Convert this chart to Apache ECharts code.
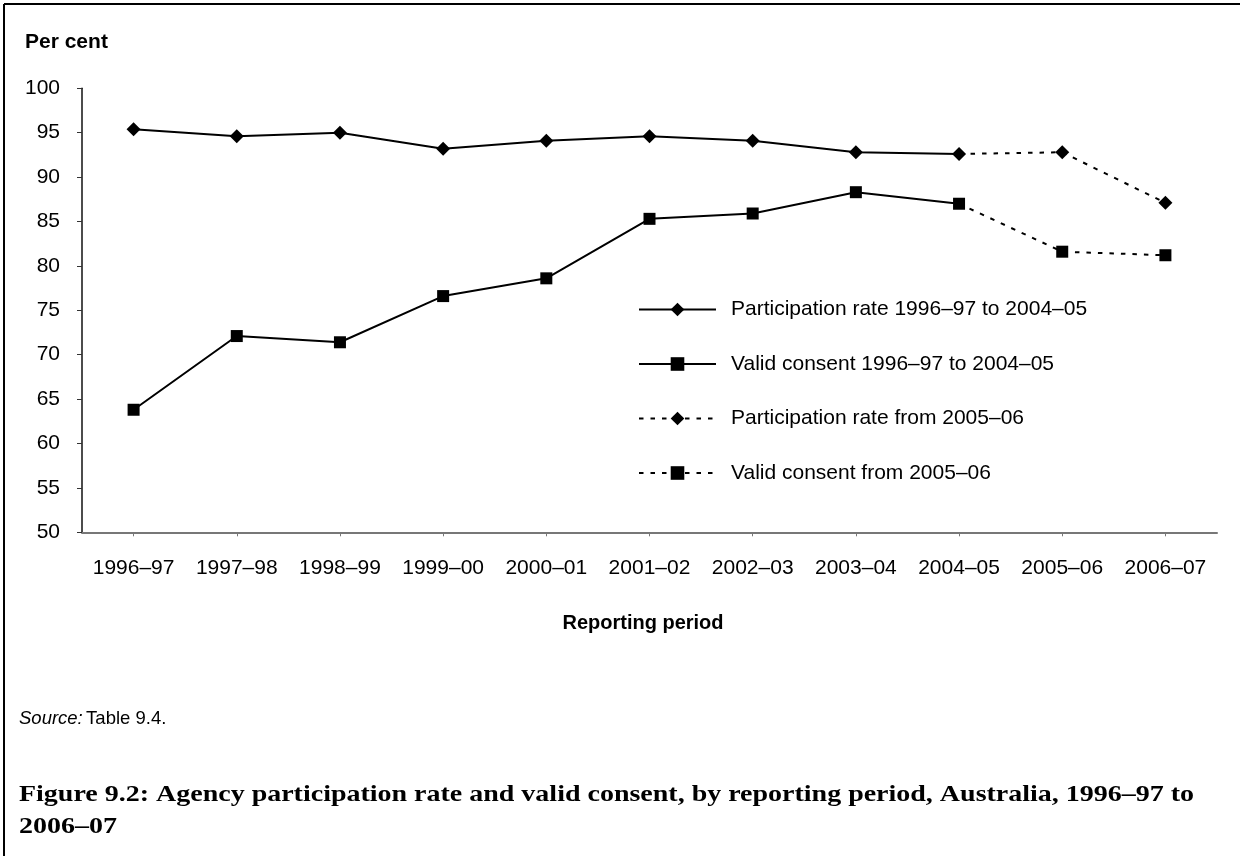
<!DOCTYPE html>
<html>
<head>
<meta charset="utf-8">
<title>Agency participation rate and valid consent</title>
<script src="https://cdn.jsdelivr.net/npm/echarts@6/dist/echarts.min.js"></script>
<style>
  html, body { margin: 0; padding: 0; background: #fff; }
  #chart { width: 1240px; height: 856px; }
</style>
</head>
<body>
<div id="chart"></div>
<script>
// Reporting periods on the category axis
const periods = ['1996–97', '1997–98', '1998–99', '1999–00', '2000–01', '2001–02',
                 '2002–03', '2003–04', '2004–05', '2005–06', '2006–07'];

// Per cent values for each reporting period
const participationRate = [95.4, 94.6, 95.0, 93.2, 94.1, 94.6, 94.1, 92.8, 92.6, 92.8, 87.1];
const validConsent      = [63.8, 72.1, 71.4, 76.6, 78.6, 85.3, 85.9, 88.3, 87.0, 81.6, 81.2];

// Index of 2004–05, the last period of the earlier series; the later series joins from here
const splitIndex = 8;

// Value axis range
const yMin = 50, yMax = 100, yStep = 5;

const seriesNames = [
  'Participation rate 1996–97 to 2004–05',
  'Valid consent 1996–97 to 2004–05',
  'Participation rate from 2005–06',
  'Valid consent from 2005–06'
];

const FONT = '"Liberation Sans", Arial, sans-serif';
const SERIF = '"Liberation Serif", "Times New Roman", serif';

function earlyPart(values) {
  return values.map((v, i) => (i <= splitIndex ? v : null));
}
function latePart(values) {
  return values.map((v, i) => {
    if (i < splitIndex) return null;
    if (i === splitIndex) return { value: v, symbolSize: 0 };
    return v;
  });
}

const solid = { color: '#000', width: 2, type: 'solid' };
const dotted = { color: '#000', width: 2, type: [4.5, 7] };
const diamond = { symbol: 'diamond', symbolSize: 14 };
const square = { symbol: 'rect', symbolSize: 12 };

function lineSeries(name, data, marker, lineStyle) {
  return {
    name: name,
    type: 'line',
    data: data,
    symbol: marker.symbol,
    symbolSize: marker.symbolSize,
    showAllSymbol: true,
    connectNulls: false,
    animation: false,
    lineStyle: lineStyle,
    itemStyle: { color: '#000', borderWidth: 0 },
    emphasis: { disabled: true },
    z: 3
  };
}

const chart = echarts.init(document.getElementById('chart'), null, { renderer: 'canvas' });

chart.setOption({
  backgroundColor: '#fff',
  animation: false,
  grid: { left: 82, right: 23, top: 88.3, bottom: 323.7, containLabel: false },
  xAxis: {
    type: 'category',
    data: periods,
    boundaryGap: true,
    axisLine: { show: true, lineStyle: { color: '#777', width: 2 } },
    axisTick: { show: true, alignWithLabel: true, length: 4, lineStyle: { color: '#777', width: 1 } },
    axisLabel: { color: '#000', fontFamily: FONT, fontSize: 21, margin: 25, interval: 0 },
    splitLine: { show: false }
  },
  yAxis: {
    type: 'value',
    min: yMin,
    max: yMax,
    interval: yStep,
    axisLine: { show: true, lineStyle: { color: '#111', width: 1.5 } },
    axisTick: { show: true, length: 5, lineStyle: { color: '#333', width: 1 } },
    axisLabel: { color: '#000', fontFamily: FONT, fontSize: 21, margin: 22 },
    splitLine: { show: false }
  },
  legend: {
    orient: 'vertical',
    left: 633,
    top: 294,
    itemWidth: 77,
    itemHeight: 17,
    itemGap: 33.5,
    selectedMode: false,
    data: seriesNames,
    textStyle: { color: '#000', fontFamily: FONT, fontSize: 21, lineHeight: 21, padding: [0, 0, 0, 10] }
  },
  series: [
    lineSeries(seriesNames[0], earlyPart(participationRate), diamond, solid),
    lineSeries(seriesNames[1], earlyPart(validConsent), square, solid),
    lineSeries(seriesNames[2], latePart(participationRate), diamond, dotted),
    lineSeries(seriesNames[3], latePart(validConsent), square, dotted)
  ],
  graphic: [
    // frame edges along the top and left
    { type: 'line', shape: { x1: 4, y1: 4, x2: 1240, y2: 4 }, style: { stroke: '#000', lineWidth: 2 } },
    { type: 'line', shape: { x1: 4, y1: 4, x2: 4, y2: 856 }, style: { stroke: '#000', lineWidth: 2 } },
    {
      type: 'text', left: 25, top: 32,
      style: { text: 'Per cent', fill: '#000', font: 'bold 21px ' + FONT }
    },
    {
      type: 'text', x: 643, y: 623,
      style: { text: 'Reporting period', fill: '#000', font: 'bold 20px ' + FONT,
               textAlign: 'center', textVerticalAlign: 'middle' }
    },
    {
      type: 'text', x: 19, y: 719,
      style: {
        text: '{i|Source:} {n|Table 9.4.}',
        textVerticalAlign: 'middle',
        rich: {
          i: { fontStyle: 'italic', fontSize: 18.5, fontFamily: FONT, fill: '#000' },
          n: { fontSize: 18.5, fontFamily: FONT, fill: '#000' }
        }
      }
    },
    {
      type: 'text', x: 19, y: 795, scaleX: 1.166, originX: 0,
      style: { text: 'Figure 9.2: Agency participation rate and valid consent, by reporting period, Australia, 1996–97 to',
               fill: '#000', font: 'bold 24px ' + SERIF, textVerticalAlign: 'middle' }
    },
    {
      type: 'text', x: 19, y: 827, scaleX: 1.166, originX: 0,
      style: { text: '2006–07', fill: '#000', font: 'bold 24px ' + SERIF, textVerticalAlign: 'middle' }
    }
  ]
});
</script>
</body>
</html>
